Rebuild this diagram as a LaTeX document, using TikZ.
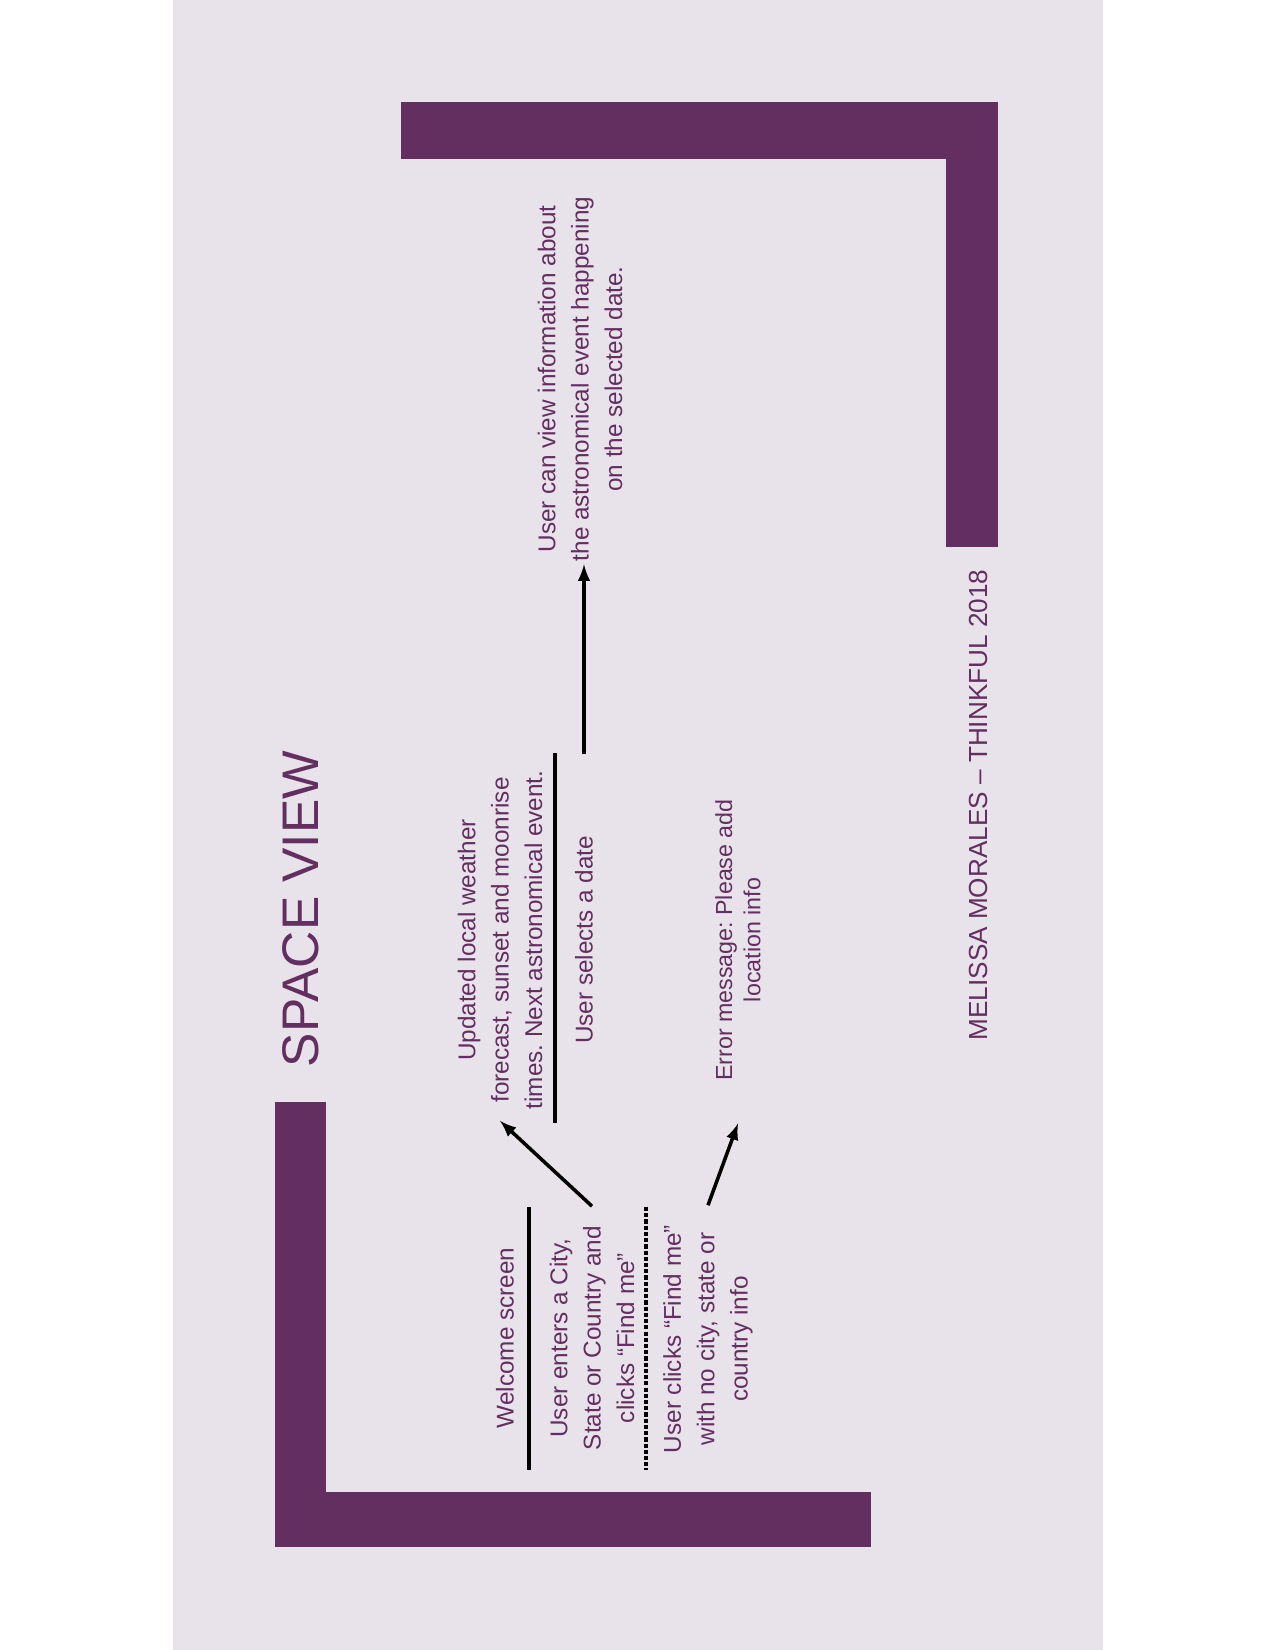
\documentclass[tikz,border=0pt]{standalone}
\usepackage{fontspec}
\setmainfont{Liberation Sans}
\definecolor{plum}{RGB}{99,46,96}
\definecolor{lavbg}{RGB}{232,226,234}

\begin{document}
\frenchspacing
\begin{tikzpicture}[x=0.0169333cm, y=-0.0169333cm,
  txt/.style={rotate=90, text=plum, align=center, font=\fontsize{11.7}{16.1}\selectfont},
  sep/.style={line width=1.8pt},
  flow/.style={->, >=latex, line width=1.7pt}]
\useasboundingbox (0,0) rectangle (1275,1650);
\fill[lavbg] (173,0) rectangle (1103,1650);

% brackets
\fill[plum] (401,102) rectangle (998,159);
\fill[plum] (946,102) rectangle (998,547);
\fill[plum] (275,1102) rectangle (326,1547);
\fill[plum] (275,1492) rectangle (871,1547);

\node[txt, font=\fontsize{24.8}{30}\selectfont] (title) at (301,909) {SPACE VIEW};

\node[txt] (welcome) at (505,1338) {Welcome screen};
\node[txt] (enters) at (592,1338) {User enters a City,\\State or Country and\\clicks ``Find me''};
\node[txt] (clicks) at (708,1339) {User clicks ``Find me''\\with no city, state or\\country info};

\node[txt] (updated) at (500,940) {Updated local weather\\forecast, sunset and moonrise\\times. Next astronomical event.};
\node[txt] (selects) at (584,940) {User selects a date};
\node[txt, font=\fontsize{11.2}{13.6}\selectfont] (error) at (738,940) {Error message: Please add\\location info};

\node[txt] (view) at (580,379) {User can view information about\\the astronomical event happening\\on the selected date.};

\node[txt, font=\fontsize{12.6}{15}\selectfont] (footer) at (978,805) {MELISSA MORALES -- THINKFUL 2018};

% separators
\draw[sep] (529,1207) -- (529,1470);
\draw[sep, dash pattern=on 2pt off 1pt] (646,1207) -- (646,1470);
\draw[sep] (555,753) -- (555,1123);

% arrows
\coordinate (errin) at ([yshift=-17pt]error.west);
\coordinate (viewin) at ([yshift=2pt]view.west);
\draw[flow] ([yshift=6pt]enters.east) -- ([yshift=-2pt]updated.west);
\draw[flow] ([yshift=6pt]clicks.east) -- (errin);
\draw[flow, shorten <=36pt] (selects.east) -- (selects.east |- viewin);

\end{tikzpicture}
\end{document}
